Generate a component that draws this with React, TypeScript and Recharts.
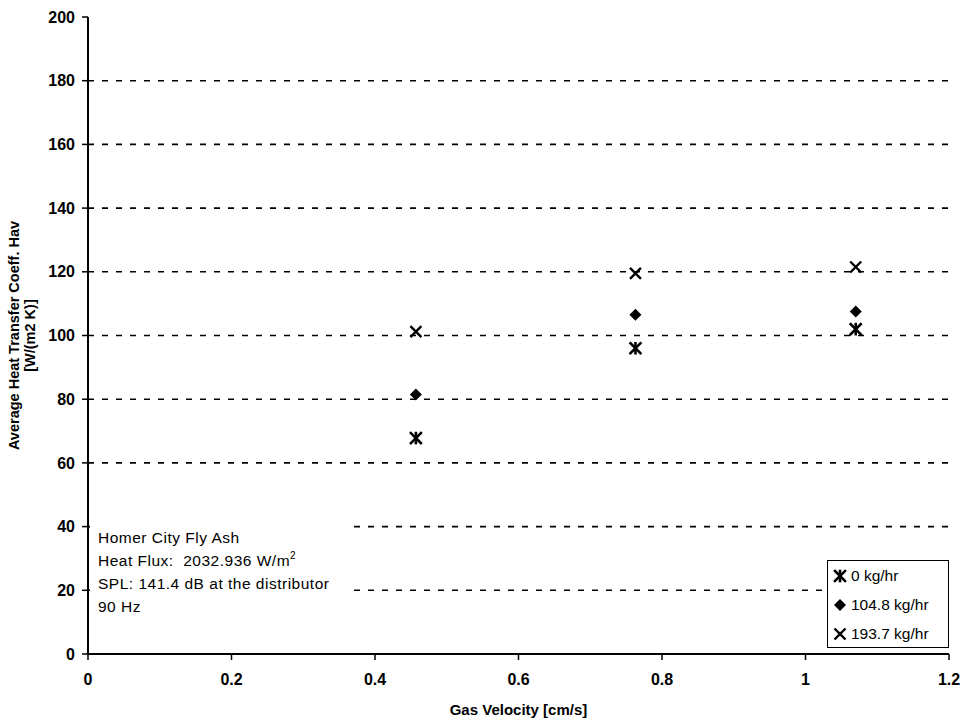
import React from "react";
import {
  ScatterChart,
  Scatter,
  XAxis,
  YAxis,
  ReferenceLine,
} from "recharts";

// gas velocity for each test point [cm/s]
const velocity = [0.457, 0.763, 1.07];
// average heat transfer coefficient per feed rate [W/(m2 K)]
const hav0 = [67.8, 96, 102];
const hav1048 = [81.5, 106.5, 107.5];
const hav1937 = [101.2, 119.5, 121.5];

const xTicks = [0, 0.2, 0.4, 0.6, 0.8, 1, 1.2];
const yTicks = [0, 20, 40, 60, 80, 100, 120, 140, 160, 180, 200];
const gridValues = [20, 40, 60, 80, 100, 120, 140, 160, 180];

const seriesNames = ["0 kg/hr", "104.8 kg/hr", "193.7 kg/hr"];

const toPoints = (ys: number[]) => velocity.map((v, i) => ({ v, h: ys[i] }));

const FONT = "'Liberation Sans', Arial, sans-serif";

const Star = ({ cx, cy }: any) => (
  <g stroke="#000" strokeWidth={2.6} strokeLinecap="square">
    <line x1={cx - 5} y1={cy - 5} x2={cx + 5} y2={cy + 5} />
    <line x1={cx - 5} y1={cy + 5} x2={cx + 5} y2={cy - 5} />
    <line x1={cx} y1={cy - 5} x2={cx} y2={cy + 5} />
  </g>
);

const Diamond = ({ cx, cy }: any) => (
  <path
    d={`M${cx},${cy - 6} L${cx + 6},${cy} L${cx},${cy + 6} L${cx - 6},${cy} Z`}
    fill="#000"
  />
);

const Cross = ({ cx, cy }: any) => (
  <g stroke="#000" strokeWidth={2.4}>
    <line x1={cx - 5.5} y1={cy - 5.5} x2={cx + 5.5} y2={cy + 5.5} />
    <line x1={cx - 5.5} y1={cy + 5.5} x2={cx + 5.5} y2={cy - 5.5} />
  </g>
);

const markers = [Star, Diamond, Cross];

const YTitle = ({ viewBox }: any) => {
  const cy = viewBox.y + viewBox.height / 2;
  return (
    <g fontFamily={FONT} fontWeight="bold" fontSize={14.5} fill="#000">
      <text x={19} y={cy} textAnchor="middle" transform={`rotate(-90, 19, ${cy})`}>
        Average Heat Transfer Coeff. Hav
      </text>
      <text x={35} y={cy} textAnchor="middle" transform={`rotate(-90, 35, ${cy})`}>
        [W/(m2 K)]
      </text>
    </g>
  );
};

const XTitle = ({ viewBox }: any) => (
  <text
    x={viewBox.x + viewBox.width / 2}
    y={715}
    textAnchor="middle"
    fontFamily={FONT}
    fontWeight="bold"
    fontSize={15}
    fill="#000"
  >
    Gas Velocity [cm/s]
  </text>
);

const tickStyle = { fill: "#000", fontSize: 16, fontWeight: "bold", fontFamily: FONT };

export default function App() {
  return (
    <div style={{ position: "absolute", left: 0, top: 0, width: 963, height: 720, background: "#fff" }}>
      <ScatterChart
        width={963}
        height={720}
        margin={{ top: 17, right: 14, bottom: 26, left: 28 }}
      >
        {gridValues.map((g) => (
          <ReferenceLine key={g} y={g} stroke="#000" strokeWidth={1.6} strokeDasharray="6 8" />
        ))}
        <XAxis
          type="number"
          dataKey="v"
          domain={[0, 1.2]}
          ticks={xTicks}
          height={40}
          tick={tickStyle}
          tickSize={6}
          tickMargin={14}
          axisLine={{ stroke: "#000", strokeWidth: 2 }}
          tickLine={{ stroke: "#000", strokeWidth: 1.5 }}
          label={<XTitle />}
        />
        <YAxis
          type="number"
          dataKey="h"
          domain={[0, 200]}
          ticks={yTicks}
          width={60}
          tick={tickStyle}
          tickSize={6}
          tickMargin={7}
          axisLine={{ stroke: "#000", strokeWidth: 2 }}
          tickLine={{ stroke: "#000", strokeWidth: 1.5 }}
          label={<YTitle />}
        />
        {[hav0, hav1048, hav1937].map((ys, i) => (
          <Scatter
            key={seriesNames[i]}
            name={seriesNames[i]}
            data={toPoints(ys)}
            shape={markers[i]}
            isAnimationActive={false}
          />
        ))}
      </ScatterChart>

      {/* test conditions note */}
      <div
        style={{
          position: "absolute",
          left: 90,
          top: 519,
          width: 262,
          height: 131,
          background: "#fff",
          fontFamily: FONT,
          fontSize: 15.5,
          color: "#000",
          lineHeight: "23px",
          paddingLeft: 8,
          paddingTop: 7,
          boxSizing: "border-box",
          letterSpacing: 0.5,
          whiteSpace: "nowrap",
        }}
      >
        <div>Homer City Fly Ash</div>
        <div>
          Heat Flux:&nbsp; 2032.936 W/m<sup style={{ fontSize: 10, verticalAlign: "top", lineHeight: "14px" }}>2</sup>
        </div>
        <div>SPL: 141.4 dB at the distributor</div>
        <div>90 Hz</div>
      </div>

      {/* legend */}
      <div
        style={{
          position: "absolute",
          left: 827,
          top: 560,
          width: 122,
          height: 88,
          background: "#fff",
          border: "1.5px solid #000",
          boxSizing: "border-box",
          fontFamily: FONT,
          fontSize: 15.5,
          color: "#000",
          whiteSpace: "nowrap",
        }}
      >
        {seriesNames.map((name, i) => {
          const M = markers[i];
          return (
            <div key={name} style={{ display: "flex", alignItems: "center", height: 29, paddingLeft: 4 }}>
              <svg width={16} height={16} style={{ marginRight: 3 }}>
                <M cx={8} cy={8} />
              </svg>
              <span>{name}</span>
            </div>
          );
        })}
      </div>
    </div>
  );
}
